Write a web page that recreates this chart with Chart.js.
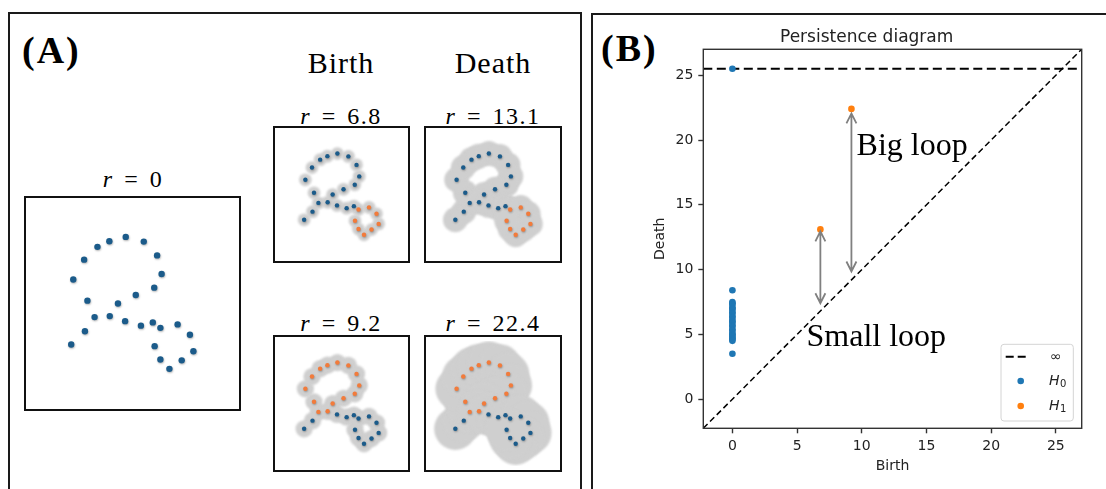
<!DOCTYPE html>
<html>
<head>
<meta charset="utf-8">
<script src="https://cdn.jsdelivr.net/npm/chart.js@4.4.1/dist/chart.umd.min.js"></script>
<style>
  html, body { margin:0; padding:0; background:#fff; }
  body { width:1106px; height:489px; position:relative; overflow:hidden; font-family:"Liberation Serif", serif; color:#000; }
  .panel { position:absolute; border:2px solid #1a1a1a; box-sizing:border-box; }
  .box { position:absolute; border:2px solid #111; box-sizing:border-box; background:#fff; }
  .box canvas { display:block; }
  .lbl { position:absolute; font-weight:bold; font-size:38px; letter-spacing:2px; line-height:1; white-space:nowrap; }
  .head { position:absolute; font-size:30px; letter-spacing:1px; line-height:1; transform:translateX(-50%); white-space:nowrap; }
  .rt { position:absolute; font-size:24px; letter-spacing:1.5px; word-spacing:3px; line-height:1; transform:translateX(-50%); white-space:nowrap; }
  #pd { position:absolute; left:593px; top:15px; }
</style>
</head>
<body>
<div class="panel" style="left:8px; top:12px; width:574px; height:500px;"></div>
<div class="panel" style="left:591px; top:13px; width:530px; height:500px;"></div>

<div class="lbl" style="left:22px; top:31px;">(A)</div>
<div class="lbl" style="left:601px; top:29px;">(B)</div>

<div class="head" style="left:341px; top:48px;">Birth</div>
<div class="head" style="left:493px; top:48px;">Death</div>

<div class="rt" style="left:133px; top:167px;"><i>r</i> = 0</div>
<div class="rt" style="left:341px; top:104px;"><i>r</i> = 6.8</div>
<div class="rt" style="left:493px; top:104px;"><i>r</i> = 13.1</div>
<div class="rt" style="left:341px; top:311px;"><i>r</i> = 9.2</div>
<div class="rt" style="left:493px; top:311px;"><i>r</i> = 22.4</div>

<div class="box" style="left:24px; top:196px; width:217px; height:215px;"><canvas id="c0" width="213" height="211"></canvas></div>
<div class="box" style="left:273px; top:126px; width:137px; height:137px;"><canvas id="c1" width="133" height="133"></canvas></div>
<div class="box" style="left:424px; top:126px; width:138px; height:137px;"><canvas id="c2" width="134" height="133"></canvas></div>
<div class="box" style="left:273px; top:335px; width:137px; height:137px;"><canvas id="c3" width="133" height="133"></canvas></div>
<div class="box" style="left:424px; top:335px; width:138px; height:137px;"><canvas id="c4" width="134" height="133"></canvas></div>

<canvas id="pd" width="513" height="474"></canvas>

<script>
// point cloud (same cloud in every box, 0-100 box units)
const cloudX = [20.1, 26.8, 31.5, 28.0, 21.1, 26.4, 32.9, 38.7, 46.7, 55.5, 62.0, 64.2, 60.6, 51.6,
                42.9, 38.9, 46.4, 54.1, 59.9, 63.6, 72.0, 78.0, 79.7, 74.0, 68.0, 63.6, 60.8];
const cloudY = [29.8, 36.3, 43.3, 51.4, 61.8, 71.6, 77.9, 80.7, 82.8, 80.5, 73.7, 64.5, 57.8, 54.2,
                50.0, 43.8, 41.3, 39.1, 40.7, 38.0, 39.7, 34.6, 26.5, 22.0, 17.8, 22.4, 29.0];
const smallLoop = [19, 20, 21, 22, 23, 24, 25, 26];
const bigLoop = [2, 3, 4, 5, 6, 7, 8, 9, 10, 11, 12, 13, 14, 15];
const unitPerR = 0.75;   // disk radius, in box units, per unit of r

// persistence diagram
const h0Birth = 0;
const h0Death = [8.4, 7.5, 7.4, 7.3, 7.1, 7.0, 6.9, 6.7, 6.6, 6.4, 6.3, 6.1, 6.0,
                 5.9, 5.7, 5.6, 5.4, 5.3, 5.1, 5.0, 4.9, 4.8, 4.7, 4.6, 4.5, 3.5, Infinity];
const h1Birth = [6.8, 9.2];
const h1Death = [13.1, 22.4];
const infLevel = 25.5;
const axisMin = -2.25, axisMax = 27.0;
const tickVals = [0, 5, 10, 15, 20, 25];
const arrowTop = [12.95, 22.05];
const arrowBottom = [7.4, 9.85];
const noteText = ['Big loop', 'Small loop'];
const noteX = [9.6, 5.73];
const noteY = [18.85, 4.1];

const cloudBlue = '#1b5b8a', cloudOrange = '#f27b3b', diskGray = '#cfcfcf';
const tabBlue = '#1f77b4', tabOrange = '#ff7f0e';

// blur for the disks, soft shadow under the dots
const cloudFx = {
  id: 'cloudFx',
  beforeDatasetDraw(chart, args) {
    const ds = chart.data.datasets[args.index];
    const ctx = chart.ctx;
    if (ds.fx === 'blur') { ctx.save(); ctx.filter = 'blur(1px)'; }
    if (ds.fx === 'shadow') {
      ctx.save();
      ctx.shadowColor = 'rgba(0,0,0,0.3)';
      ctx.shadowBlur = 2;
      ctx.shadowOffsetX = 0.5;
      ctx.shadowOffsetY = 1;
    }
  },
  afterDatasetDraw(chart, args) {
    const ds = chart.data.datasets[args.index];
    if (ds.fx) chart.ctx.restore();
  }
};

function cloudChart(id, r, hot, dotR) {
  const pts = cloudX.map((x, i) => ({x: x, y: cloudY[i]}));
  const datasets = [];
  if (r > 0) {
    const diskR = c => {
      const s = c.chart.scales.x;
      return Math.abs(s.getPixelForValue(r * unitPerR) - s.getPixelForValue(0));
    };
    datasets.push({ data: pts, backgroundColor: diskGray, borderWidth: 0,
                    pointRadius: diskR, pointHoverRadius: diskR, fx: 'blur', order: 3 });
  }
  datasets.push({ data: pts.filter((p, i) => !hot.includes(i)), backgroundColor: cloudBlue,
                  borderWidth: 0, pointRadius: dotR, fx: 'shadow', order: 2 });
  datasets.push({ data: pts.filter((p, i) => hot.includes(i)), backgroundColor: cloudOrange,
                  borderWidth: 0, pointRadius: dotR, fx: 'shadow', order: 1 });
  return new Chart(document.getElementById(id), {
    type: 'scatter',
    data: { datasets: datasets },
    options: {
      responsive: false, animation: false, events: [],
      layout: { padding: 0 },
      plugins: { legend: { display: false }, tooltip: { enabled: false } },
      scales: {
        x: { display: false, min: 0, max: 100 },
        y: { display: false, min: 0, max: 100 }
      }
    },
    plugins: [cloudFx]
  });
}

cloudChart('c0', 0, [], 3.2);
cloudChart('c1', 6.8, smallLoop, 2.2);
cloudChart('c2', 13.1, smallLoop, 2.2);
cloudChart('c3', 9.2, bigLoop, 2.2);
cloudChart('c4', 22.4, bigLoop, 2.2);

// arrows, notes, frame and legend of the diagram
const pdExtras = {
  id: 'pdExtras',
  afterDatasetsDraw(chart) {
    const {ctx, chartArea: a, scales: {x, y}} = chart;
    ctx.save();
    ctx.strokeStyle = '#808080';
    ctx.lineWidth = 1.8;
    h1Birth.forEach((b, i) => {
      const px = x.getPixelForValue(b);
      const t = y.getPixelForValue(arrowTop[i]);
      const bt = y.getPixelForValue(arrowBottom[i]);
      ctx.beginPath();
      ctx.moveTo(px, t); ctx.lineTo(px, bt);
      ctx.moveTo(px - 5, t + 10); ctx.lineTo(px, t); ctx.lineTo(px + 5, t + 10);
      ctx.moveTo(px - 5, bt - 10); ctx.lineTo(px, bt); ctx.lineTo(px + 5, bt - 10);
      ctx.stroke();
    });

    ctx.fillStyle = '#000';
    ctx.font = '32px "Liberation Serif"';
    ctx.textBaseline = 'alphabetic';
    noteText.forEach((t, i) => ctx.fillText(t, x.getPixelForValue(noteX[i]), y.getPixelForValue(noteY[i])));

    ctx.strokeStyle = '#333';
    ctx.lineWidth = 1.4;
    ctx.strokeRect(a.left, a.top, a.width, a.height);

    // legend box
    const lw = 72.3, lh = 76.7;
    const lx = a.right - 8.4 - lw, ly = a.bottom - 7.3 - lh;
    ctx.beginPath();
    ctx.roundRect(lx, ly, lw, lh, 3);
    ctx.fillStyle = 'rgba(255,255,255,0.85)';
    ctx.fill();
    ctx.strokeStyle = '#d4d4d4';
    ctx.lineWidth = 1;
    ctx.stroke();

    ctx.strokeStyle = '#000';
    ctx.lineWidth = 2;
    ctx.setLineDash([8, 4]);
    ctx.beginPath();
    ctx.moveTo(lx + 4.7, ly + 12.4); ctx.lineTo(lx + 25.7, ly + 12.4);
    ctx.stroke();
    ctx.setLineDash([]);

    ctx.fillStyle = tabBlue;
    ctx.beginPath(); ctx.arc(lx + 19.7, ly + 36.7, 3.3, 0, Math.PI * 2); ctx.fill();
    ctx.fillStyle = tabOrange;
    ctx.beginPath(); ctx.arc(lx + 19.7, ly + 61.7, 3.3, 0, Math.PI * 2); ctx.fill();

    ctx.fillStyle = '#222';
    ctx.textBaseline = 'middle';
    ctx.font = '14px "DejaVu Sans"';
    ctx.fillText('∞', lx + 49, ly + 13);
    [['0', 36.7], ['1', 61.7]].forEach(([sub, dy]) => {
      ctx.font = 'italic 14px "DejaVu Sans"';
      ctx.fillText('H', lx + 48, ly + dy);
      const w = ctx.measureText('H').width;
      ctx.font = '10px "DejaVu Sans"';
      ctx.fillText(sub, lx + 48 + w + 0.5, ly + dy + 3.5);
    });
    ctx.restore();
  }
};

const axisFont = { family: 'DejaVu Sans', size: 14 };
const gridOpts = { drawOnChartArea: false, tickLength: 5, tickColor: '#333', tickWidth: 1.4 };

new Chart(document.getElementById('pd'), {
  type: 'scatter',
  data: {
    datasets: [
      { data: [{x: axisMin, y: axisMin}, {x: axisMax, y: axisMax}], showLine: true,
        borderColor: '#000', borderWidth: 1.5, borderDash: [6, 3.5], pointRadius: 0, order: 3 },
      { data: [{x: axisMin, y: infLevel}, {x: axisMax, y: infLevel}], showLine: true,
        borderColor: '#000', borderWidth: 2, borderDash: [9, 4.5], pointRadius: 0, order: 2 },
      { data: h0Death.map(d => ({x: h0Birth, y: isFinite(d) ? d : infLevel})),
        backgroundColor: tabBlue, borderWidth: 0, pointRadius: 3.3, order: 1 },
      { data: h1Birth.map((b, i) => ({x: b, y: h1Death[i]})),
        backgroundColor: tabOrange, borderWidth: 0, pointRadius: 3.3, order: 0 }
    ]
  },
  options: {
    responsive: false, animation: false, events: [],
    layout: { padding: { left: 58.6, right: 24.3, top: 0, bottom: 0 } },
    plugins: {
      legend: { display: false },
      tooltip: { enabled: false },
      title: { display: true, text: 'Persistence diagram', color: '#222',
               font: { family: 'DejaVu Sans', size: 17, weight: 'normal' },
               padding: { top: 12, bottom: 1.9 } }
    },
    scales: {
      x: {
        type: 'linear', min: axisMin, max: axisMax,
        afterBuildTicks: s => { s.ticks = tickVals.map(v => ({value: v})); },
        afterFit: s => { s.height = 60.7; },
        border: { display: false },
        grid: gridOpts,
        ticks: { color: '#222', font: axisFont, padding: 5, maxRotation: 0, autoSkip: false },
        title: { display: true, text: 'Birth', color: '#222', font: axisFont, padding: { top: 0, bottom: 13.9 } }
      },
      y: {
        type: 'linear', min: axisMin, max: axisMax,
        afterBuildTicks: s => { s.ticks = tickVals.map(v => ({value: v})); },
        afterFit: s => { s.width = 51.7; },
        border: { display: false },
        grid: gridOpts,
        ticks: { color: '#222', font: axisFont, padding: 5, autoSkip: false },
        title: { display: true, text: 'Death', color: '#222', font: axisFont, padding: { top: 0, bottom: 0 } }
      }
    }
  },
  plugins: [pdExtras]
});
</script>
</body>
</html>
